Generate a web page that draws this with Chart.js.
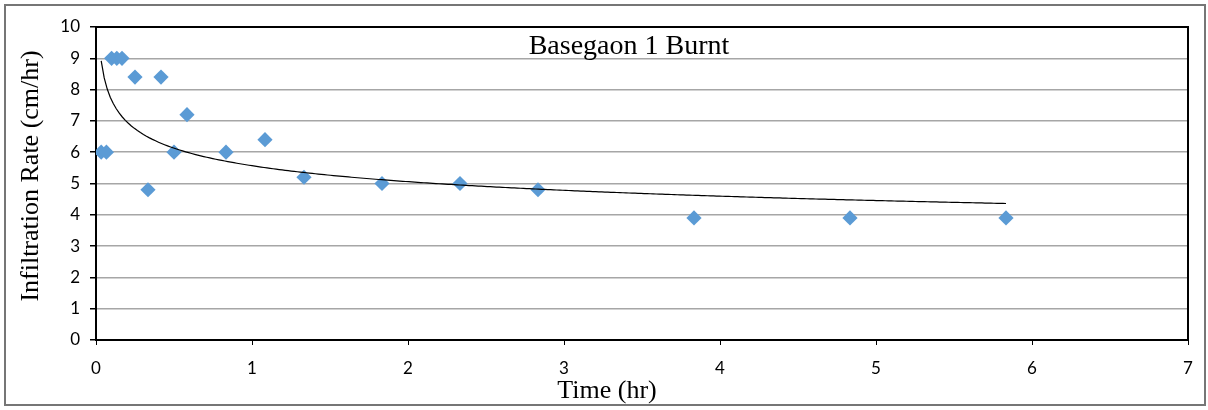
<!DOCTYPE html>
<html>
<head>
<meta charset="utf-8">
<script src="https://cdn.jsdelivr.net/npm/chart.js@4/dist/chart.umd.min.js"></script>
<style>
  html, body { margin: 0; padding: 0; background: #fff; }
  #wrap { width: 1208px; height: 410px; }
</style>
</head>
<body>
<div id="wrap"><canvas id="graphCanvas" width="1208" height="410"></canvas></div>
<script>
// time in hours, infiltration rate in cm/hr
var time = [0.0333, 0.0667, 0.1, 0.1333, 0.1667, 0.25, 0.3333, 0.4167, 0.5, 0.5833,
            0.8333, 1.0833, 1.3333, 1.8333, 2.3333, 2.8333, 3.8333, 4.8333, 5.8333];
var rate = [6, 6, 9, 9, 9, 8.4, 4.8, 8.4, 6, 7.2,
            6, 6.4, 5.2, 5, 5, 4.8, 3.9, 3.9, 3.9];
var xTicks = [0, 1, 2, 3, 4, 5, 6, 7];
var yTicks = [0, 1, 2, 3, 4, 5, 6, 7, 8, 9, 10];
var chartTitle = 'Basegaon 1 Burnt';
var xTitle = 'Time (hr)';
var yTitle = 'Infiltration Rate (cm/hr)';

var points = [];
for (var i in time) {
    points.push({ x: time[i], y: rate[i] });
}

// power trendline y = a * x^b, least squares on log-log
var sx = 0, sy = 0, sxx = 0, sxy = 0, n = time.length;
for (var i = 0; i < n; i++) {
    var lx = Math.log(time[i]), ly = Math.log(rate[i]);
    sx += lx; sy += ly; sxx += lx * lx; sxy += lx * ly;
}
var b = (n * sxy - sx * sy) / (n * sxx - sx * sx);
var a = Math.exp((sy - b * sx) / n);
var trend = [];
var t0 = time[0], t1 = time[n - 1];
for (var k = 0; k <= 300; k++) {
    var t = t0 + (t1 - t0) * k / 300;
    trend.push({ x: t, y: a * Math.pow(t, b) });
}

var frame = {
    id: 'frame',
    beforeDraw: function (chart) {
        var c = chart.ctx;
        c.save();
        c.fillStyle = '#fff';
        c.fillRect(0, 0, chart.width, chart.height);
        c.strokeStyle = '#767676';
        c.lineWidth = 2;
        c.strokeRect(5, 5, 1200, 400);
        c.restore();
    },
    beforeDatasetsDraw: function (chart) {
        var ca = chart.chartArea, c = chart.ctx;
        c.save();
        c.strokeStyle = '#000';
        c.lineWidth = 2;
        c.strokeRect(ca.left, ca.top, ca.right - ca.left, ca.bottom - ca.top);
        c.restore();
    },
    afterDraw: function (chart) {
        var c = chart.ctx;
        c.save();
        c.fillStyle = '#000';
        c.textAlign = 'center';
        c.textBaseline = 'alphabetic';
        c.font = '28px "Liberation Serif", "Times New Roman", serif';
        c.fillText(chartTitle, 629, 54);
        c.font = '26px "Liberation Serif", "Times New Roman", serif';
        c.fillText(xTitle, 607, 398);
        c.translate(31, 176);
        c.rotate(-Math.PI / 2);
        c.textBaseline = 'middle';
        c.fillText(yTitle, 0, 0);
        c.restore();
    }
};

var tickFont = { family: 'Lato, "Open Sans", sans-serif', size: 17 };

new Chart(document.getElementById('graphCanvas'), {
    type: 'scatter',
    data: {
        datasets: [
            {
                type: 'line',
                label: 'trend',
                data: trend,
                borderColor: '#000',
                borderWidth: 1.2,
                pointRadius: 0,
                fill: false,
                tension: 0,
                order: 0
            },
            {
                label: 'rate',
                data: points,
                pointStyle: 'rectRot',
                pointRadius: 7.6,
                backgroundColor: '#5b9bd5',
                borderColor: '#5b9bd5',
                borderWidth: 0,
                order: 1
            }
        ]
    },
    options: {
        responsive: false,
        animation: false,
        layout: { padding: { left: 0, top: 27, right: 20, bottom: 0 } },
        plugins: {
            legend: { display: false },
            tooltip: { enabled: false }
        },
        scales: {
            x: {
                type: 'linear',
                min: 0,
                max: 7,
                afterBuildTicks: function (s) { s.ticks = xTicks.map(function (v) { return { value: v }; }); },
                afterFit: function (s) { s.height = 70; },
                grid: { drawOnChartArea: false, drawTicks: true, tickLength: 5, tickColor: '#000' },
                border: { color: '#000', width: 2 },
                ticks: { color: '#000', font: tickFont, padding: 13, maxRotation: 0 }
            },
            y: {
                min: 0,
                max: 10,
                afterBuildTicks: function (s) { s.ticks = yTicks.map(function (v) { return { value: v }; }); },
                afterFit: function (s) { s.width = 96; },
                grid: { color: '#a6a6a6', lineWidth: 1.5, tickLength: 6, tickColor: '#000' },
                border: { color: '#000', width: 2 },
                ticks: { color: '#000', font: tickFont, padding: 10 }
            }
        }
    },
    plugins: [frame]
});
</script>
</body>
</html>
